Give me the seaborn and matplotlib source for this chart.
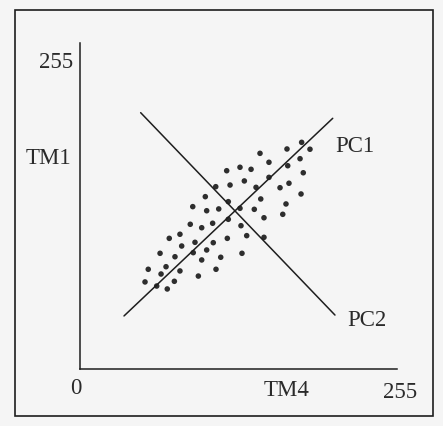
import matplotlib
matplotlib.use("Agg")
import matplotlib.pyplot as plt
from matplotlib.patches import Rectangle
import seaborn as sns
import pandas as pd

# scatter values (TM4, TM1) in 0..255 digital numbers
tm4 = [178.3, 185.0, 166.5, 144.8, 152.0, 177.0, 118.0, 128.7, 137.6, 167.1,
       179.6, 152.0, 132.2, 120.7, 109.2, 141.6, 160.9, 168.1, 177.8, 100.8,
       145.4, 119.3, 165.7, 90.7, 101.9, 111.6, 128.7, 140.2, 163.1, 148.0,
       119.3, 106.7, 88.7, 97.9, 129.5, 80.4, 71.8, 134.1, 148.0, 118.5,
       81.8, 92.5, 107.2, 64.4, 76.4, 91.1, 101.9, 130.3, 97.9, 113.2,
       54.9, 69.2, 80.4, 65.2, 109.4, 52.3, 61.7, 75.9, 70.2, 95.2]
tm1 = [177.3, 171.9, 172.1, 168.7, 161.7, 164.5, 155.1, 157.8, 156.2, 159.0,
       153.5, 149.9, 147.1, 143.9, 142.6, 142.1, 141.8, 145.3, 136.9, 134.8,
       133.0, 130.9, 129.1, 127.0, 123.8, 125.2, 125.7, 124.9, 121.0, 118.3,
       117.1, 114.0, 113.2, 110.5, 112.1, 105.4, 102.2, 104.3, 103.0, 102.2,
       96.2, 99.1, 98.8, 90.5, 87.8, 91.0, 93.1, 90.5, 85.3, 87.4,
       78.0, 80.0, 76.7, 74.3, 78.0, 68.1, 64.9, 68.6, 62.6, 72.7]

# principal component axes (endpoints)
pc1_x = [35.4, 203.3]
pc1_y = [41.5, 196.1]
pc2_x = [48.8, 205.1]
pc2_y = [200.5, 42.2]

x_label, y_label = "TM4", "TM1"
axis_min, axis_max = "0", "255"

sns.set_style("white")
plt.rcParams['font.family'] = ['Liberation Serif', 'DejaVu Serif']

W, H = 443, 426
fig = plt.figure(figsize=(W / 100, H / 100), dpi=100)
bg = '#f5f5f5'
fig.patch.set_facecolor(bg)

def px(x, y):
    return x / W, 1 - y / H

ax = fig.add_axes([80 / W, 1 - 369 / H, 317 / W, 326 / H])
ax.set_facecolor(bg)

df = pd.DataFrame({"TM4": tm4, "TM1": tm1})
sns.scatterplot(data=df, x="TM4", y="TM1", ax=ax, color='#2e2e2e',
                s=16, edgecolor='none', legend=False)
sns.lineplot(x=pc1_x, y=pc1_y, ax=ax, color='#1e1e1e', lw=1.1, sort=False)
sns.lineplot(x=pc2_x, y=pc2_y, ax=ax, color='#1e1e1e', lw=1.1, sort=False)

ax.set_xlim(0, 255)
ax.set_ylim(0, 255)
ax.set_xticks([])
ax.set_yticks([])
ax.set_xlabel("")
ax.set_ylabel("")
for s in ['top', 'right']:
    ax.spines[s].set_visible(False)
for s in ['left', 'bottom']:
    ax.spines[s].set_color('#1e1e1e')
    ax.spines[s].set_linewidth(1.1)

tc = '#2a2a2a'
fs = 16.5
fig.text(*px(73, 62), axis_max, ha='right', va='center', fontsize=fs, color=tc)
fig.text(*px(48, 158), y_label, ha='center', va='center', fontsize=fs, color=tc)
fig.text(*px(76, 388), axis_min, ha='center', va='center', fontsize=fs, color=tc)
fig.text(*px(287, 390), x_label, ha='center', va='center', fontsize=fs, color=tc)
fig.text(*px(400, 392), axis_max, ha='center', va='center', fontsize=fs, color=tc)
fig.text(*px(355, 146), "PC1", ha='center', va='center', fontsize=fs, color=tc)
fig.text(*px(367, 320), "PC2", ha='center', va='center', fontsize=fs, color=tc)

frame = Rectangle(px(15, 416), (433 - 15) / W, (416 - 10) / H,
                  transform=fig.transFigure, fill=False, edgecolor='#1e1e1e', lw=1.2)
fig.patches.append(frame)

fig.savefig("out.png", dpi=100, facecolor=bg)
